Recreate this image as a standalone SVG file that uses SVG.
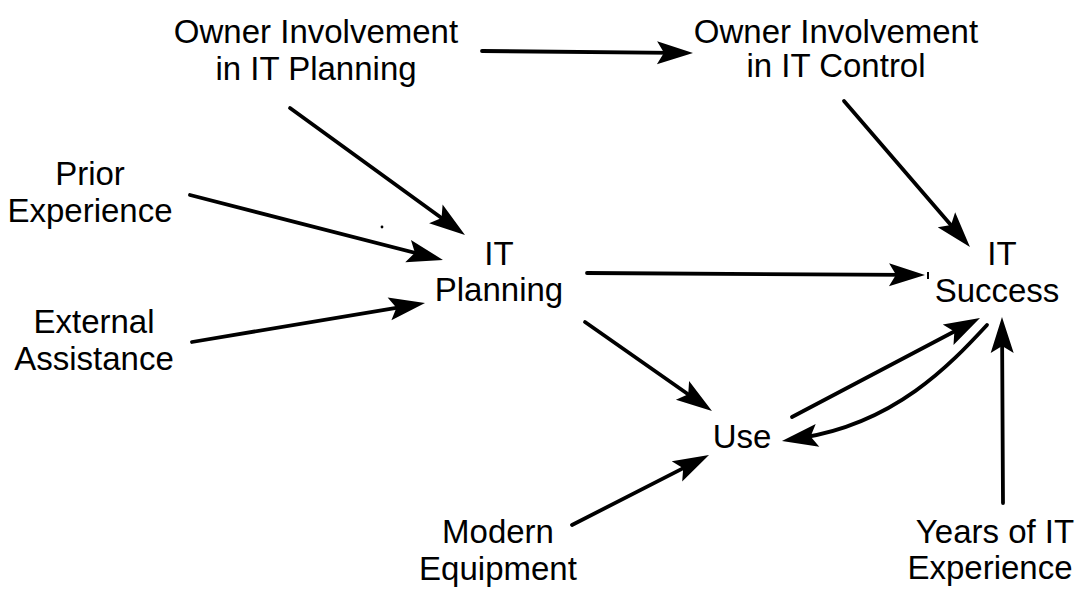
<svg xmlns="http://www.w3.org/2000/svg" width="1078" height="590" viewBox="0 0 1078 590">
  <defs>
    <style>
      .lbl { font-family: "Liberation Sans", Arial, Helvetica, sans-serif; font-size: 33px; fill: #000; text-anchor: middle; }
      .edge { fill: none; stroke: #000; stroke-width: 3.8; stroke-linecap: round; marker-end: url(#head); }
    </style>
    <!-- narrow filled arrowhead; its tip sits 20 units beyond the line end -->
    <marker id="head" markerUnits="userSpaceOnUse" markerWidth="48" markerHeight="28" viewBox="-20 -14 48 28" refX="0" refY="0" orient="auto" overflow="visible">
      <path d="M20,0 L-16,-11.5 L-9,0 L-16,11.5 Z" fill="#000"/>
    </marker>
  </defs>

  <rect width="1078" height="590" fill="#fff"/>

  <!-- connectors -->
  <g id="connectors">
    <path class="edge" d="M482,51 L673,52.8"/>
    <path class="edge" d="M290,108 L448.8,223.3"/>
    <path class="edge" d="M190,195 L423.6,255"/>
    <path class="edge" d="M192,342 L405.3,306.3"/>
    <path class="edge" d="M587,273 L905,274.9"/>
    <path class="edge" d="M844,101 L956.9,231.9"/>
    <path class="edge" d="M585,322 L695.6,399.5"/>
    <path class="edge" d="M792,417 L962.3,327.3"/>
    <path class="edge" d="M987,325 C950,365 895,423 801.7,437.8"/>
    <path class="edge" d="M1003,503 L1002.1,337"/>
    <path class="edge" d="M572,525 L691.2,464.1"/>
  </g>

  <!-- nodes -->
  <g id="owner-planning">
    <text class="lbl" x="316" y="43">Owner Involvement</text>
    <text class="lbl" x="316" y="80">in IT Planning</text>
  </g>
  <g id="owner-control">
    <text class="lbl" x="836" y="43">Owner Involvement</text>
    <text class="lbl" x="836" y="77">in IT Control</text>
  </g>
  <g id="prior-experience">
    <text class="lbl" x="90" y="185">Prior</text>
    <text class="lbl" x="90" y="222">Experience</text>
  </g>
  <g id="external-assistance">
    <text class="lbl" x="94" y="333">External</text>
    <text class="lbl" x="94" y="370">Assistance</text>
  </g>
  <g id="it-planning">
    <text class="lbl" x="499" y="265">IT</text>
    <text class="lbl" x="499" y="301">Planning</text>
  </g>
  <g id="it-success">
    <text class="lbl" x="1002" y="265">IT</text>
    <text class="lbl" x="997" y="302">Success</text>
    <line x1="928" y1="272" x2="928" y2="279" stroke="#000" stroke-width="2"/>
  </g>
  <g id="use">
    <text class="lbl" x="742" y="448">Use</text>
  </g>
  <g id="modern-equipment">
    <text class="lbl" x="498" y="543">Modern</text>
    <text class="lbl" x="498" y="580">Equipment</text>
  </g>
  <g id="years-experience">
    <text class="lbl" x="995" y="543">Years of IT</text>
    <text class="lbl" x="990" y="579">Experience</text>
  </g>

  <!-- stray speck -->
  <circle cx="382" cy="227" r="1.4" fill="#000"/>
</svg>
